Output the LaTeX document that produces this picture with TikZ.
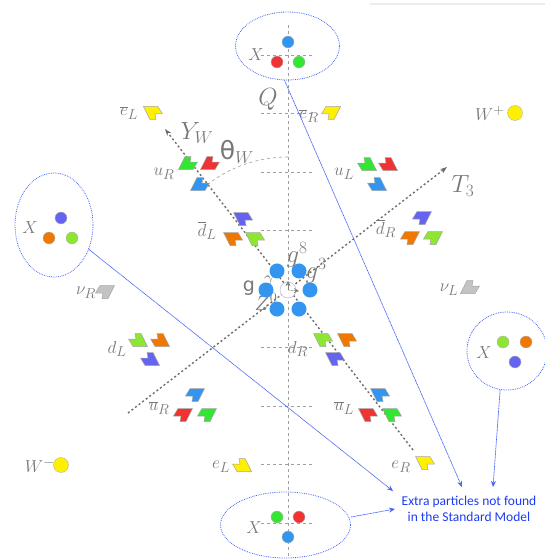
\documentclass[tikz,border=0pt]{standalone}
\usepackage{fontspec}
\newfontfamily\carl{Carlito}
\newfontfamily\dvs{DejaVu Sans}
\usetikzlibrary{arrows.meta,shapes.geometric,calc}
\definecolor{lab}{RGB}{120,120,120}
\definecolor{cr}{RGB}{240,50,50}
\definecolor{cg}{RGB}{50,230,50}
\definecolor{cb}{RGB}{50,150,240}
\definecolor{co}{RGB}{240,120,0}
\definecolor{cl}{RGB}{140,230,50}
\definecolor{cv}{RGB}{100,100,240}
\definecolor{cy}{RGB}{255,240,0}
\definecolor{cn}{RGB}{195,195,195}
\definecolor{eblue}{RGB}{70,100,245}
\definecolor{tblue}{RGB}{30,60,240}
\tikzset{
  lbl/.style={text=lab, inner sep=0pt, font=\fontsize{19}{19}\selectfont},
  biglbl/.style={text=lab, inner sep=0pt, font=\fontsize{25}{25}\selectfont},
  ell/.style={ellipse, draw=eblue, densely dotted, line width=0.8pt, inner sep=0pt},
  dot/.style={circle, draw=gray!60, line width=0.4pt, inner sep=0pt, minimum size=12pt},
  hdot/.style={circle, fill=cb, inner sep=0pt, minimum size=15pt},
  tick/.style={draw=gray!75, line width=0.6pt, dash pattern=on 3pt off 3pt},
  axisln/.style={draw=gray!85!black, line width=1.4pt, dash pattern=on 2pt off 2.5pt},
  conn/.style={draw=eblue, line width=0.7pt, dash pattern=on 1pt off 0.5pt, -{Stealth[length=6pt,width=5pt]}},
  flagA/.pic={\path[pic actions, draw=gray!70, line width=0.5pt]
     (-3,-6.5) -- (3,-6.5) -- (2,-1) -- (9.5,-1) -- (5,6.5) -- (-9.5,6.5) -- cycle;},
  flagB/.pic={\path[pic actions, draw=gray!70, line width=0.5pt]
     (-3,6.5) -- (3,6.5) -- (2,1) -- (9.5,1) -- (5,-6.5) -- (-9.5,-6.5) -- cycle;},
}
\begin{document}
\begin{tikzpicture}[x=1pt,y=-1pt]
\useasboundingbox (0,0) rectangle (545,559);
\draw[gray!15, line width=1.5pt] (370,4) -- (545,4);
% vertical axis and ticks
\draw[tick] (288,25) -- (288,556);
\foreach \yy in {55,113.5,172,230.5,347.5,406,464.5,523} \draw[tick] (261,\yy) -- (315,\yy);
% theta arc
\draw[tick] (288,157) arc[start angle=-90, end angle=-127.76, radius=132];
% axes
\coordinate (cen) at (288,290);
\coordinate (ywtip) at (165,129);
\coordinate (ywend) at (413,450);
\coordinate (t3tip) at (447,167);
\coordinate (t3end) at (128,413);
\draw[axisln, -{Stealth[length=7pt,width=5pt]}] (ywend) -- (ywtip);
\draw[axisln, -{Stealth[length=7pt,width=5pt]}] (t3end) -- (t3tip);
% axis labels
\node[biglbl] (Q) at (268,99) {$Q$};
\node[biglbl] (YW) at (197,133) {$Y_W$};
\node[biglbl] (T3) at (463,186) {$T_3$};
\node[biglbl] (thw) at (237,152) {{\dvs θ}$_W$};
% top X
\node[ell, minimum width=104pt, minimum height=68pt] (Xt) at (287.5,46) {};
\node[lbl] (Xtl) at (256,55) {$X$};
\node[dot, fill=cb] (xt1) at (288,42) {};
\node[dot, fill=cr] (xt2) at (277,62) {};
\node[dot, fill=cg] (xt3) at (299,62) {};
% left X
\node[ell, minimum width=78pt, minimum height=104pt] (Xl) at (54,225) {};
\node[lbl] (Xll) at (30,228) {$X$};
\node[dot, fill=cv] (xl1) at (61,218) {};
\node[dot, fill=co] (xl2) at (49,238) {};
\node[dot, fill=cl] (xl3) at (72,238) {};
% right X
\node[ell, minimum width=80pt, minimum height=78pt] (Xr) at (507,351) {};
\node[lbl] (Xrl) at (484,353) {$X$};
\node[dot, fill=cl] (xr1) at (503,342) {};
\node[dot, fill=co] (xr2) at (526,342) {};
\node[dot, fill=cv] (xr3) at (515,362) {};
% bottom X
\node[ell, minimum width=130pt, minimum height=66pt] (Xb) at (285.5,525) {};
\node[lbl] (Xbl) at (254,528) {$X$};
\node[dot, fill=cg] (xb1) at (277,517) {};
\node[dot, fill=cr] (xb2) at (299,517) {};
\node[dot, fill=cb] (xb3) at (288,537) {};
% W bosons
\node[lbl] (Wpl) at (490,113) {$W^{+}$};
\node[dot, fill=cy, minimum size=15pt] (Wp) at (515,113) {};
\node[lbl] (Wml) at (40,465) {$W^{-}$};
\node[dot, fill=cy, minimum size=15pt] (Wm) at (61,465) {};
% leptons
\node[lbl] (eLbl) at (129,113) {$\overline{e}_L$};
\pic[fill=cy] (eLb) at (153,113) {flagB};
\node[lbl] (eRbl) at (309,116) {$\overline{e}_R$};
\pic[fill=cy, xscale=-1] (eRb) at (331,113) {flagB};
\node[lbl] (nRl) at (86,293) {$\nu_R$};
\pic[fill=cn, xscale=-1] (nR) at (105,292) {flagB};
\node[lbl] (nLl) at (449,290) {$\nu_L$};
\pic[fill=cn] (nL) at (470,287) {flagA};
\node[lbl] (eLl) at (221,467) {$e_L$};
\pic[fill=cy, xscale=-1] (eL) at (242,465) {flagA};
\node[lbl] (eRl) at (401,467) {$e_R$};
\pic[fill=cy] (eR) at (425,463) {flagB};
% u_R
\node[lbl] (uRl) at (164,174) {$u_R$};
\pic[fill=cg] (uR1) at (188,163) {flagA};
\pic[fill=cr] (uR2) at (210,163) {flagA};
\pic[fill=cb] (uR3) at (200,184) {flagA};
% u_L
\node[lbl] (uLl) at (344,174) {$u_L$};
\pic[fill=cg, xscale=-1] (uL1) at (367,164) {flagA};
\pic[fill=cr, xscale=-1] (uL2) at (388,164) {flagA};
\pic[fill=cb, xscale=-1] (uL3) at (377,184) {flagA};
% dbar_L
\node[lbl] (dLbl) at (207,231) {$\overline{d}_L$};
\pic[fill=cv] (dLb1) at (243,219) {flagB};
\pic[fill=co] (dLb2) at (233,239) {flagB};
\pic[fill=cl] (dLb3) at (255,239) {flagB};
% dbar_R
\node[lbl] (dRbl) at (386,229) {$\overline{d}_R$};
\pic[fill=cv, xscale=-1] (dRb1) at (422,218) {flagB};
\pic[fill=co, xscale=-1] (dRb2) at (410,238) {flagB};
\pic[fill=cl, xscale=-1] (dRb3) at (433,238) {flagB};
% d_L
\node[lbl] (dLl) at (117,349) {$d_L$};
\pic[fill=cl, xscale=-1] (dL1) at (138,340) {flagA};
\pic[fill=co, xscale=-1] (dL2) at (160,340) {flagA};
\pic[fill=cv, xscale=-1] (dL3) at (150,359) {flagA};
% d_R
\node[lbl] (dRl) at (298,349) {$d_R$};
\pic[fill=cl] (dR1) at (323,340) {flagB};
\pic[fill=co] (dR2) at (347,340) {flagB};
\pic[fill=cv] (dR3) at (335,359) {flagB};
% ubar_R
\node[lbl] (uRbl) at (159,408) {$\overline{u}_R$};
\pic[fill=cb, xscale=-1] (uRb1) at (195,395) {flagB};
\pic[fill=cr, xscale=-1] (uRb2) at (183,415) {flagB};
\pic[fill=cg, xscale=-1] (uRb3) at (207,415) {flagB};
% ubar_L
\node[lbl] (uLbl) at (344,408) {$\overline{u}_L$};
\pic[fill=cb] (uLb1) at (380,395) {flagB};
\pic[fill=cr] (uLb2) at (368,415) {flagB};
\pic[fill=cg] (uLb3) at (392,415) {flagB};
% center gauge bosons
\node[lbl, font=\dvs\fontsize{19}{19}\selectfont] (gl) at (249,288) {g};
\node[lbl, font=\fontsize{23}{23}\selectfont] (g8) at (297,255) {$g^8$};
\node[lbl, font=\fontsize{23}{23}\selectfont] (g3) at (316,271) {$g^3$};
\node[lbl] (gam) at (269,281) {$\gamma$};
\node[lbl, font=\fontsize{21}{21}\selectfont] (Z0) at (266,302) {$Z^0$};
\foreach \a/\n in {0/h1,60/h2,120/h3,180/h4,240/h5,300/h6}
  \node[hdot] (\n) at ($(cen)+(\a:22)$) {};
\node[circle, draw=gray!60, fill=white, inner sep=0pt, minimum size=16pt] (hc) at (cen) {};
\draw[gray, -{Stealth[length=5pt,width=5pt]}] (hc.center) -- ++(0,-9);
\draw[gray, -{Stealth[length=5pt,width=5pt]}] (hc.center) -- ++(11,1);
% extra-particles text and connectors
\node[text=tblue, font=\carl\fontsize{13.5}{16.5}\selectfont, align=center] (txt) at (469,509) {Extra particles not found\\in the Standard Model};
\coordinate (tp1) at (462,487);
\coordinate (tp2) at (393,491);
\coordinate (tp3) at (493,487);
\coordinate (tp4) at (395,509);
\draw[conn] (Xt.-95) -- (tp1);
\draw[conn] (Xl.-35) -- (tp2);
\draw[conn] (Xr.-100) -- (tp3);
\draw[conn] (Xb.east) ++(0,-8) -- (tp4);
\end{tikzpicture}
\end{document}
